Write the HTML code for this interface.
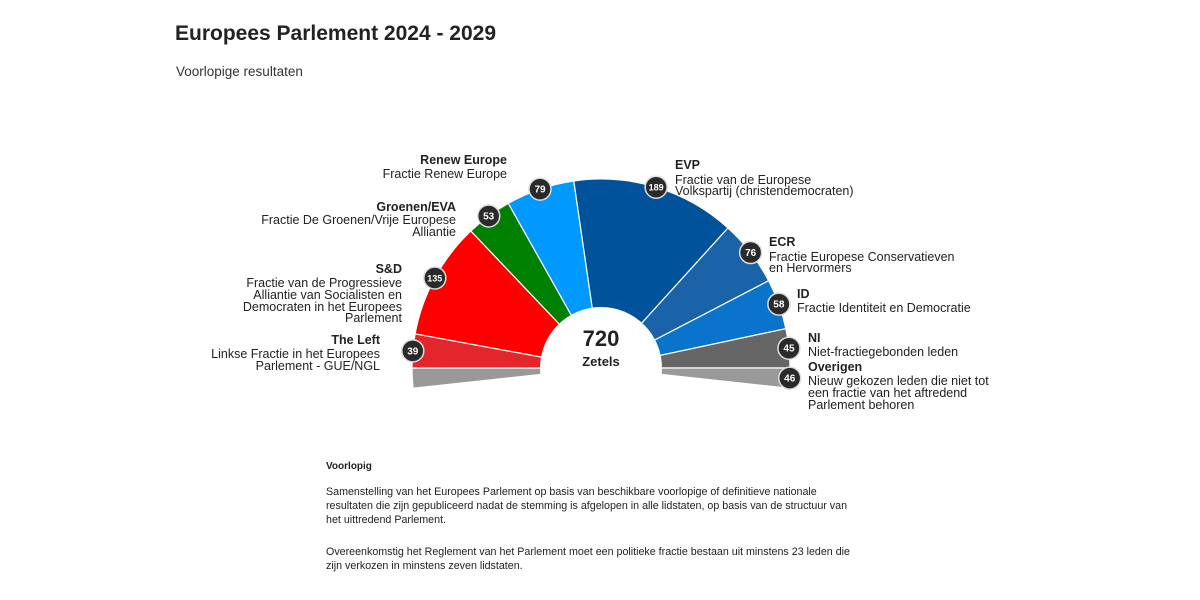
<!DOCTYPE html>
<html><head><meta charset="utf-8"><style>
body{margin:0;background:#fff;width:1200px;height:600px;overflow:hidden;font-family:"Liberation Sans",sans-serif;color:#222}
svg{position:absolute;left:0;top:0}
</style></head><body>
<svg width="1200" height="600" viewBox="0 0 1200 600" font-family="Liberation Sans, sans-serif">
<text x="175" y="40" font-size="21" font-weight="bold" fill="#222">Europees Parlement 2024 - 2029</text>
<text x="176" y="76" font-size="13.5" fill="#333">Voorlopige resultaten</text>
<g id="segs"></g>
<circle cx="601" cy="368" r="61" fill="#fff"/>
<text x="601" y="346" font-size="22" font-weight="bold" text-anchor="middle" fill="#222">720</text>
<text x="601" y="366" font-size="13" font-weight="bold" text-anchor="middle" fill="#222">Zetels</text>
<g id="badges"></g>
<g font-size="12.5" fill="#222" text-anchor="end">
<text x="507" y="164" font-weight="bold">Renew Europe</text>
<text x="507" y="178">Fractie Renew Europe</text>
<text x="456" y="211" font-weight="bold">Groenen/EVA</text>
<text x="456" y="224">Fractie De Groenen/Vrije Europese</text>
<text x="456" y="236">Alliantie</text>
<text x="402" y="273" font-weight="bold">S&amp;D</text>
<text x="402" y="287">Fractie van de Progressieve</text>
<text x="402" y="299">Alliantie van Socialisten en</text>
<text x="402" y="311">Democraten in het Europees</text>
<text x="402" y="322">Parlement</text>
<text x="380" y="344" font-weight="bold">The Left</text>
<text x="380" y="358">Linkse Fractie in het Europees</text>
<text x="380" y="370">Parlement - GUE/NGL</text>
</g>
<g font-size="12.5" fill="#222">
<text x="675" y="169" font-weight="bold">EVP</text>
<text x="675" y="184">Fractie van de Europese</text>
<text x="675" y="195">Volkspartij (christendemocraten)</text>
<text x="769" y="246" font-weight="bold">ECR</text>
<text x="769" y="261">Fractie Europese Conservatieven</text>
<text x="769" y="272">en Hervormers</text>
<text x="797" y="298" font-weight="bold">ID</text>
<text x="797" y="312">Fractie Identiteit en Democratie</text>
<text x="808" y="342" font-weight="bold">NI</text>
<text x="808" y="356">Niet-fractiegebonden leden</text>
<text x="808" y="371" font-weight="bold">Overigen</text>
<text x="808" y="385">Nieuw gekozen leden die niet tot</text>
<text x="808" y="397">een fractie van het aftredend</text>
<text x="808" y="409">Parlement behoren</text>
</g>
<g font-size="10.7" fill="#222">
<text x="326" y="469" font-weight="bold" font-size="10">Voorlopig</text>
<text x="326" y="495">Samenstelling van het Europees Parlement op basis van beschikbare voorlopige of definitieve nationale</text>
<text x="326" y="509">resultaten die zijn gepubliceerd nadat de stemming is afgelopen in alle lidstaten, op basis van de structuur van</text>
<text x="326" y="523">het uittredend Parlement.</text>
<text x="326" y="555">Overeenkomstig het Reglement van het Parlement moet een politieke fractie bestaan uit minstens 23 leden die</text>
<text x="326" y="569">zijn verkozen in minstens zeven lidstaten.</text>
</g>
</svg>
<script>
var cx=601,cy=368,R=189,r=40,a=180/674;
var segs=[[23,"#999",0],[39,"#e3262b",1],[135,"#ff0000",1],[53,"#008000",1],[79,"#0099ff",1],[189,"#00529b",1],[76,"#1a63a8",1],[58,"#0a74cc",1],[45,"#666",1],[23,"#999",1]];
var nums=[0,39,135,53,79,189,76,58,45,46];
var th=180+23*a,g="",b="";
function p(t,rr){var q=t*Math.PI/180;return (cx+rr*Math.cos(q)).toFixed(2)+","+(cy-rr*Math.sin(q)).toFixed(2);}
for(var i=0;i<segs.length;i++){var t1=th,t2=th-segs[i][0]*a;
g+='<path d="M'+p(t1,r)+' L'+p(t1,R)+' A'+R+','+R+' 0 0 1 '+p(t2,R)+' L'+p(t2,r)+' Z" fill="'+segs[i][1]+'" stroke="#fff" stroke-width="1.2"/>';
if(segs[i][2]){var m=(t1+t2)/2,q=m*Math.PI/180,x=cx+R*Math.cos(q),y=cy-R*Math.sin(q);
b+='<circle cx="'+x+'" cy="'+y+'" r="11" fill="#2a2a2a" stroke="#ddd" stroke-width="1.5"/><text x="'+x+'" y="'+(y+3.5)+'" font-size="'+(nums[i]>99?9:10)+'" font-weight="bold" fill="#fff" text-anchor="middle">'+nums[i]+'</text>';}
th=t2;}
document.getElementById("segs").innerHTML=g;document.getElementById("badges").innerHTML=b;
</script>
</body></html>
